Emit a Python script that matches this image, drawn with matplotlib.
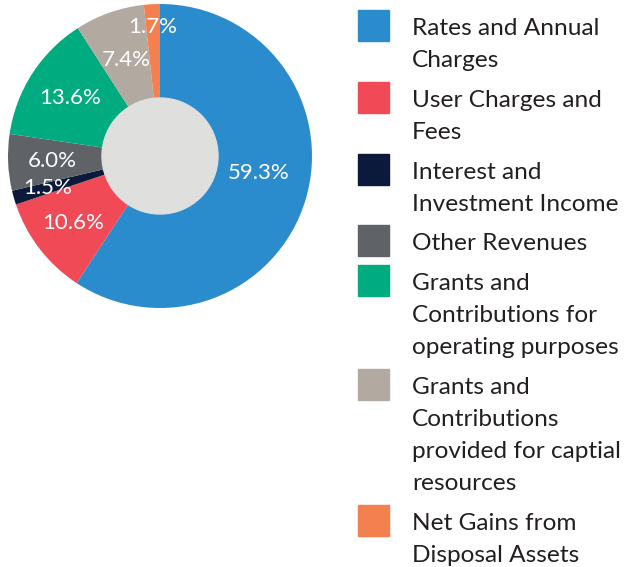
import numpy as np
import matplotlib
matplotlib.use("Agg")
from matplotlib import pyplot as plt
from matplotlib.patches import Rectangle, Circle

# data
categories = [
    "Rates and Annual\nCharges",
    "User Charges and\nFees",
    "Interest and\nInvestment Income",
    "Other Revenues",
    "Grants and\nContributions for\noperating purposes",
    "Grants and\nContributions\nprovided for captial\nresources",
    "Net Gains from\nDisposal Assets",
]
shares = [59.3, 10.6, 1.5, 6.0, 13.6, 7.4, 1.7]
pct_labels = ["59.3%", "10.6%", "1.5%", "6.0%", "13.6%", "7.4%", "1.7%"]

# style
colors = ["#2b8ccd", "#ef4a55", "#0b1a3a", "#5f6368", "#00ab7f", "#b2aaa0", "#f47f4f"]
hole_color = "#dfe0de"
text_color = "#231f20"
label_radius = [0.66, 0.72, 0.77, 0.71, 0.70, 0.67, 0.85]
label_turn = [7, 0, 0, 0, 0, 0, 0]  # degrees nudged along the ring
plt.rcParams['font.family'] = ['Lato', 'DejaVu Sans']

W, H = 630, 567
fig = plt.figure(figsize=(W / 100, H / 100), dpi=100)

# pie axes (pixel box converted to figure fractions)
cx, cy, r = 160, 156, 152
ax = fig.add_axes([(cx - r) / W, (H - cy - r) / H, 2 * r / W, 2 * r / H])
wedges, _ = ax.pie(shares, colors=colors, startangle=90, counterclock=False,
                   radius=1, wedgeprops=dict(linewidth=0))
ax.add_patch(Circle((0, 0), 58 / r, color=hole_color, zorder=3))
ax.set_xlim(-1, 1)
ax.set_ylim(-1, 1)
ax.set_aspect("equal")
ax.axis("off")

for w, lab, rr, turn in zip(wedges, pct_labels, label_radius, label_turn):
    mid = np.deg2rad((w.theta1 + w.theta2) / 2 + turn)
    ax.text(rr * np.cos(mid), rr * np.sin(mid), lab, color="white",
            fontsize=16, ha="center", va="center", zorder=4)

# legend drawn by hand, one text per line
sq_x, sq_size, txt_x = 358, 31, 412
pitch, gap = 32, 7.8
base = 35
for cat, col in zip(categories, colors):
    lines = cat.split("\n")
    top = base - 25
    fig.patches.append(Rectangle((sq_x / W, (H - top - sq_size) / H), sq_size / W, sq_size / H,
                                 transform=fig.transFigure, color=col, figure=fig))
    for i, ln in enumerate(lines):
        fig.text(txt_x / W, (H - base - i * pitch) / H, ln, fontsize=17.6,
                 color=text_color, ha="left", va="baseline")
    base += len(lines) * pitch + gap

fig.savefig("out.png", dpi=100)
